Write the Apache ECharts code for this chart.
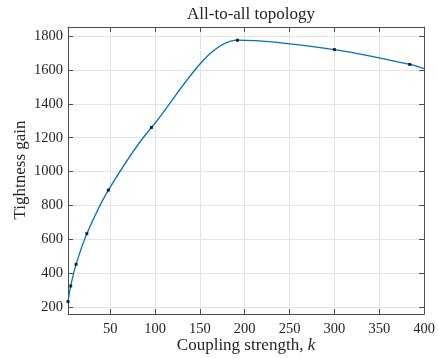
<!DOCTYPE html>
<html>
<head>
<meta charset="utf-8">
<script src="https://cdn.jsdelivr.net/npm/echarts@6/dist/echarts.min.js"></script>
<style>html,body{margin:0;padding:0;background:#fff}#c{width:438px;height:358px}</style>
</head>
<body>
<div id="c"></div>
<script>
var titleText = 'All-to-all topology';
var xName = 'Coupling strength, ';
var yName = 'Tightness gain';
var kValues = [3, 6, 12, 24, 48, 96, 192, 300, 384];
var gainValues = [233, 325, 453, 634, 891, 1260, 1775, 1720, 1632];
var curveEndK = 400;
var curveEndGain = 1608;

var pts = kValues.map(function (k, i) { return [k, gainValues[i]]; });
var curve = pts.concat([[curveEndK, curveEndGain]]);

var font = 'Liberation Serif';
var axisColor = '#4d4d4d';
var chart = echarts.init(document.getElementById('c'));
function fmt(v) { return String(v); }
function xAx(pos, showLabel) {
  return {
    type: 'value', position: pos, min: 3, max: 400, splitNumber: 8,
    axisLine: { show: true, onZero: false, lineStyle: { color: axisColor, width: 1 } },
    axisTick: { show: true, inside: true, length: 5, lineStyle: { color: axisColor } },
    axisLabel: { show: showLabel, showMinLabel: false, formatter: fmt, color: '#262626', fontFamily: font, fontSize: 14.5, margin: 8 },
    splitLine: { show: showLabel, lineStyle: { color: '#e3e3e3', width: 1 } }
  };
}
function yAx(pos, showLabel) {
  return {
    type: 'value', position: pos, min: 160, max: 1853, splitNumber: 8,
    axisLine: { show: true, onZero: false, lineStyle: { color: axisColor, width: 1 } },
    axisTick: { show: true, inside: true, length: 5, lineStyle: { color: axisColor } },
    axisLabel: { show: showLabel, showMinLabel: false, showMaxLabel: false, formatter: fmt, color: '#262626', fontFamily: font, fontSize: 14.5, margin: 5 },
    splitLine: { show: showLabel, lineStyle: { color: '#e3e3e3', width: 1 } }
  };
}
chart.setOption({
  animation: false,
  title: { text: titleText, left: 246, top: 1, textAlign: 'center',
    textStyle: { fontFamily: font, fontSize: 17, fontWeight: 'normal', color: '#262626' } },
  grid: { left: 68, top: 27, right: 13, bottom: 44 },
  xAxis: [xAx('bottom', true), xAx('top', false)],
  yAxis: [yAx('left', true), yAx('right', false)],
  graphic: [
    { type: 'text', x: 246, y: 346, style: {
        rich: { n: { fontFamily: font, fontSize: 17, fill: '#262626' }, i: { fontFamily: font, fontSize: 17, fontStyle: 'italic', fill: '#262626' } },
        text: '{n|' + xName + '}{i|k}', align: 'center', verticalAlign: 'middle' } },
    { type: 'text', x: 21, y: 170, rotation: Math.PI / 2, style: {
        text: yName, fontFamily: font, fontSize: 17, fill: '#262626', align: 'center', verticalAlign: 'middle' } }
  ],
  series: [
    { type: 'line', data: curve, smooth: 0.3, symbol: 'none', lineStyle: { color: '#0072BD', width: 1.3 }, z: 2 },
    { type: 'scatter', data: pts, symbol: 'rect', symbolSize: 3, itemStyle: { color: '#000' }, z: 3 }
  ]
});
</script>
</body>
</html>
